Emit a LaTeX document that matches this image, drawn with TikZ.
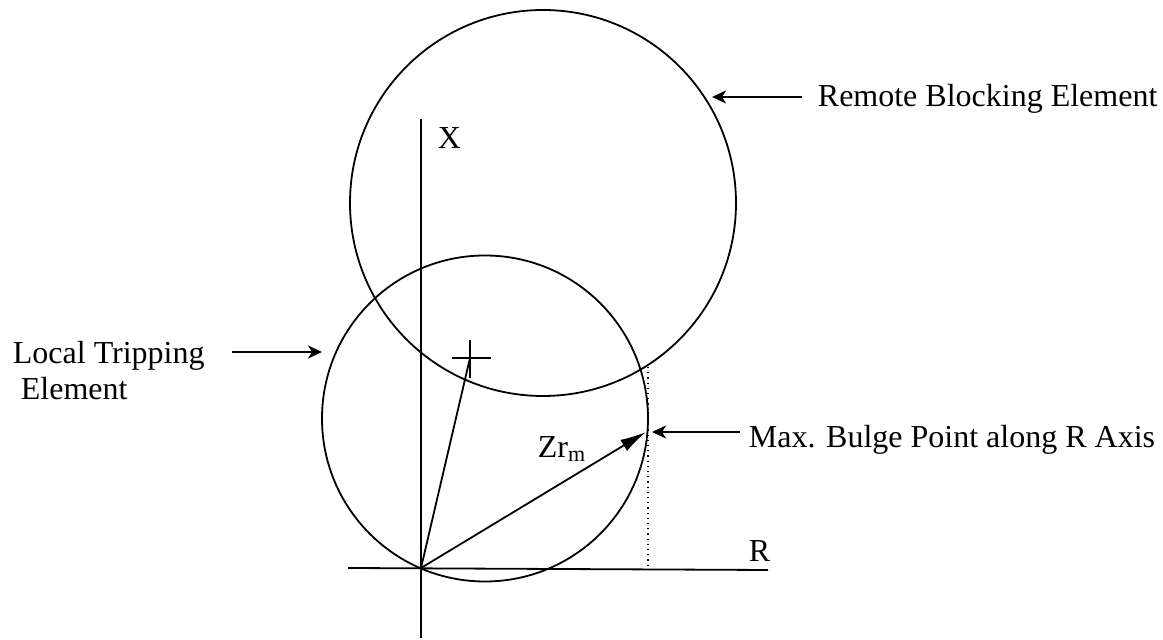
\documentclass[tikz,border=0pt]{standalone}
\usepackage{fontspec}
\setmainfont{Liberation Serif}
\usetikzlibrary{arrows.meta}

\begin{document}
\begin{tikzpicture}[x=0.5pt, y=-0.5pt, line width=0.9pt,
    every node/.style={font=\fontsize{16}{19}\selectfont, inner sep=0pt},
    lbl/.style={anchor=base west},
    callout/.style={-{Stealth[length=7pt, width=6.5pt, inset=2pt]}},
    vec/.style={-{Latex[length=13pt, width=6.5pt]}}]
    \useasboundingbox (0,0) rectangle (1163,640);

    % Axes
    \coordinate (O) at (421,568);
    \coordinate (xtop) at (421,119);
    \coordinate (xbot) at (421,638);
    \coordinate (rleft) at (348,568);
    \coordinate (rright) at (768,570);
    \draw (xtop) -- (xbot);
    \draw (rleft) -- (rright);
    \node[lbl] (xlab) at (437,149) {X};
    \node[lbl] (rlab) at (748,562) {R};

    % Characteristic circles
    \draw (485,418.5) circle[radius=163];
    \draw (543,203) circle[radius=193];

    % Centre mark and vectors
    \coordinate (C) at (470,358);
    \draw (C) ++(-18,0) -- ++(39,0);
    \draw (C) ++(0,-18) -- ++(0,38);
    \draw (O) -- (C);
    \coordinate (B) at (646,432);
    \draw[vec] (O) -- (B);
    \node[lbl] (zr) at (537,458) {Zr\raisebox{-2pt}{\fontsize{11}{12}\selectfont m}};
    \coordinate (dtop) at (648,367);
    \coordinate (dbot) at (648,568);
    \draw[dotted, line width=0.6pt] (dtop) -- (dbot);

    % Labels
    \node[lbl] (remote) at (817,107) {Remote Blocking Element};
    \coordinate (remtail) at (802,97);
    \coordinate (remtip) at (712,97);
    \draw[callout] (remtail) -- (remtip);

    \node[lbl] (local) at (12,364) {Local Tripping};
    \node[lbl] (localb) at (20,400) {Element};
    \coordinate (loctail) at (232,352);
    \coordinate (loctip) at (322,352);
    \draw[callout] (loctail) -- (loctip);

    \node[lbl] (bulge) at (748,448) {Max. Bulge Point along R Axis};
    \coordinate (bultail) at (740,432);
    \coordinate (bultip) at (652,432);
    \draw[callout] (bultail) -- (bultip);
\end{tikzpicture}
\end{document}
